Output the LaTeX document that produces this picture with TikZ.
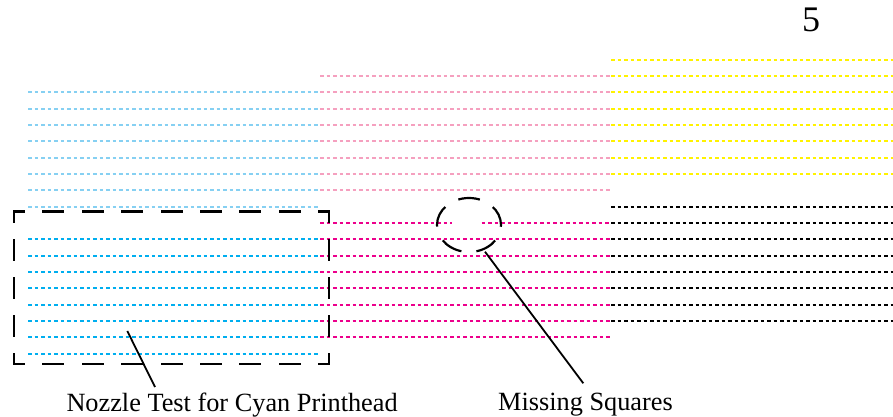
\documentclass[tikz,border=0pt]{standalone}
\usepackage{fontspec}
\setmainfont{Liberation Serif}
\definecolor{cyanL}{HTML}{86D0F2}
\definecolor{cyanD}{HTML}{00AEEF}
\definecolor{pinkL}{HTML}{F5A0BF}
\definecolor{magD}{HTML}{EC008C}
\definecolor{yel}{HTML}{FFF200}
\begin{document}
\begin{tikzpicture}[x=1pt,y=-1pt,
  dotline/.style={line width=2pt, dash pattern=on 3.5pt off 3pt},
  boxside/.style={line width=2.7pt, line cap=rect},
  hside/.style={boxside, dash pattern=on 19.3pt off 20.1pt, dash phase=9.65pt},
  vside/.style={boxside, dash pattern=on 19.3pt off 18.8pt, dash phase=9.65pt},
  ring/.style={line width=2.2pt, dash pattern=on 22pt off 15.14pt, dash phase=11pt},
  pointer/.style={line width=1.8pt},
  lbl/.style={anchor=base west, inner sep=0pt, font=\fontsize{26.3}{30}\selectfont}]
\useasboundingbox (0,0) rectangle (893,417);
% cyan (light, upper)
\foreach \k in {2,...,9} \draw[dotline,cyanL] (28,{round(59.7+16.33*\k)}) -- (319,{round(59.7+16.33*\k)});
% pink (light, upper)
\foreach \k in {1,...,8} \draw[dotline,pinkL] (320,{round(59.7+16.33*\k)}) -- (611,{round(59.7+16.33*\k)});
% yellow
\foreach \k in {0,...,7} \draw[dotline,yel] (611,{round(59.7+16.33*\k)}) -- (893,{round(59.7+16.33*\k)});
% black
\foreach \k in {9,...,16} \draw[dotline,black] (611,{round(59.7+16.33*\k)}) -- (893,{round(59.7+16.33*\k)});
% magenta (dark)
\draw[dotline,magD] (320,{round(59.7+16.33*10)}) -- (451.7,{round(59.7+16.33*10)});
\draw[dotline,magD] (481.7,{round(59.7+16.33*10)}) -- (611,{round(59.7+16.33*10)});
\foreach \k in {11,...,17} \draw[dotline,magD] (320,{round(59.7+16.33*\k)}) -- (611,{round(59.7+16.33*\k)});
% cyan (dark)
\foreach \k in {11,...,18} \draw[dotline,cyanD] (28,{round(59.7+16.33*\k)}) -- (319,{round(59.7+16.33*\k)});
% dashed box
\coordinate (r1) at (14,211.7);
\coordinate (r2) at (329,211.7);
\coordinate (r3) at (329,364);
\coordinate (r4) at (14,364);
\draw[hside] (r1) -- (r2);
\draw[hside] (r4) -- (r3);
\draw[vside] (r1) -- (r4);
\draw[vside] (r2) -- (r3);
% dashed ring
\draw[ring] (469,198) arc[start angle=-90, end angle=270, x radius=32, y radius=27];
% labels
\node[lbl] (nz) at (66.3,411.3) {Nozzle Test for Cyan Printhead};
\node[lbl] (ms) at (498,410) {Missing Squares};
\node[anchor=base, inner sep=0pt, font=\fontsize{36}{40}\selectfont] (pg) at (811,31.7) {5};
% pointers
\coordinate (nzA) at (127.3,331);
\coordinate (nzB) at (155,387);
\coordinate (msA) at (485,251.7);
\coordinate (msB) at (583.3,383.3);
\draw[pointer] (nzA) -- (nzB);
\draw[pointer] (msA) -- (msB);
\end{tikzpicture}
\end{document}
